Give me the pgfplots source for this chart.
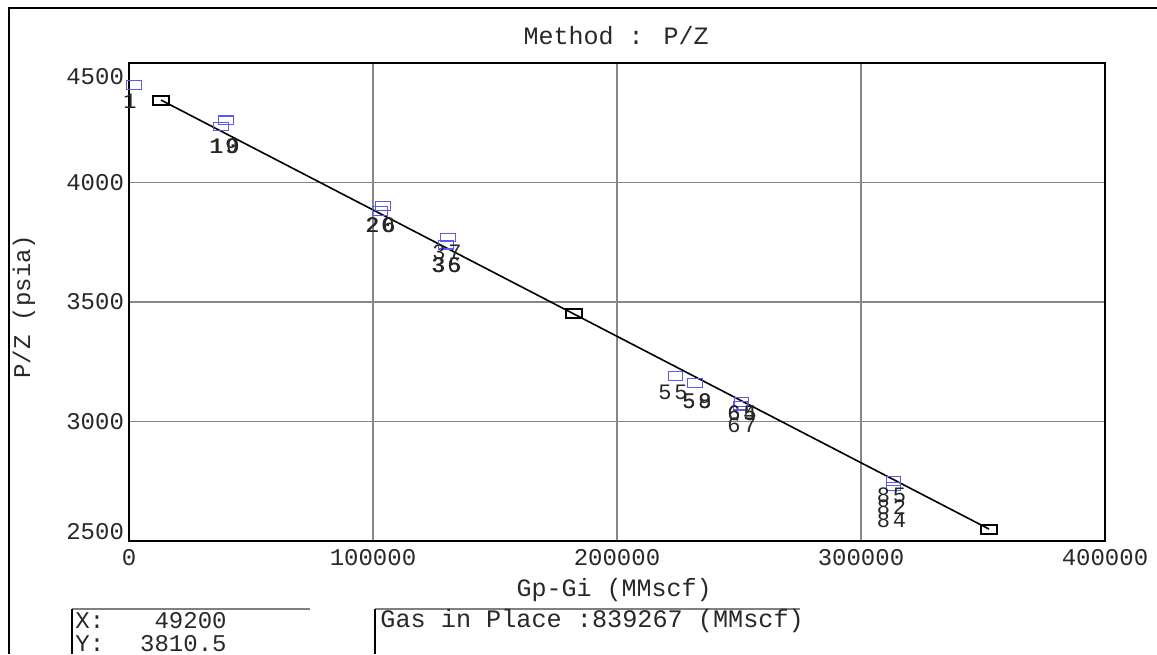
\documentclass[border=0pt]{standalone}
\usepackage{pgfplots}
\pgfplotsset{compat=1.18}
\usepackage{fontspec}
\setmainfont{Liberation Mono}
\newfontfamily\mono{Liberation Mono}
\newfontfamily\monoL[LetterSpace=12]{Liberation Mono}
\definecolor{ptblue}{RGB}{90,90,235}
\definecolor{gridgray}{RGB}{135,135,135}
\definecolor{txt}{RGB}{40,40,40}

\pgfplotstableread{
x y
2050 4408
39754 4261
37705 4234
104100 3902
102870 3881
130740 3770
129920 3739
223980 3190
231970 3161
251030 3082
250600 3066
313300 2751
313300 2728
}\bluepts

\pgfplotstableread{
x y
13115 4345
182380 3450
352460 2550
}\blackpts

\pgfplotstableread{
x y label
410 4338 1
39345 4153 10
38900 4153 19
103280 3822 26
102870 3822 20
130330 3709 37
130330 3655 35
129920 3655 36
222950 3123 55
232790 3086 58
232790 3086 59
251230 3036 64
251230 3036 65
251230 2985 67
312500 2692 85
312500 2642 82
312500 2588 84
}\labels

\begin{document}
\begin{tikzpicture}[x=1pt,y=1pt]
\useasboundingbox (0,0) rectangle (578.5,327);
% outer frame
\draw[line width=1pt,black] (4.5,0) -- (4.5,323) -- (578.5,323);
% bottom boxes
\draw[line width=0.6pt,gray] (36,22.5) -- (155,22.5);
\draw[line width=0.8pt,black] (36,0) -- (36,22.5);
\draw[line width=0.6pt,gray] (187.5,22.5) -- (400,22.5);
\draw[line width=0.8pt,black] (187.5,0) -- (187.5,22.5);
\node[anchor=west,font=\mono\fontsize{12}{12}\selectfont,text=txt,inner sep=0pt] at (37.5,16.5) {X:};
\node[anchor=east,font=\mono\fontsize{12}{12}\selectfont,text=txt,inner sep=0pt] at (113.5,16.5) {49200};
\node[anchor=west,font=\mono\fontsize{12}{12}\selectfont,text=txt,inner sep=0pt] at (37.5,5) {Y:};
\node[anchor=east,font=\mono\fontsize{12}{12}\selectfont,text=txt,inner sep=0pt] at (113.5,5) {3810.5};
\node[anchor=west,font=\mono\fontsize{12.6}{12.6}\selectfont,text=txt,inner sep=0pt] at (190,16.5) {Gas in Place :839267 (MMscf)};

\begin{axis}[
  at={(64.5pt,56.5pt)}, anchor=south west,
  scale only axis, width=488pt, height=239pt,
  xmin=0, xmax=400000, ymin=2500, ymax=4500,
  clip=false,
  scaled x ticks=false, scaled y ticks=false,
  xtick={0,100000,200000,300000,400000},
  xticklabels={0,100000,200000,300000,400000},
  ytick={2500,3000,3500,4000,4500},
  yticklabels={\raisebox{4.5pt}[\height][\depth]{2500},3000,3500,4000,\raisebox{-7pt}[\height][\depth]{4500}},
  major tick length=0pt,
  grid=major,
  major grid style={gridgray, line width=0.75pt},
  axis line style={black, line width=1pt},
  x tick label style={font=\mono\fontsize{12}{12}\selectfont, text=txt, yshift=-0.5pt},
  y tick label style={font=\mono\fontsize{12}{12}\selectfont, text=txt, xshift=1pt},
  title={Method : P/Z},
  every axis title/.style={font=\mono\fontsize{12.5}{12.5}\selectfont, text=txt, at={(axis description cs:0.499,1.058)}, anchor=center},
  xlabel={Gp-Gi (MMscf)},
  xlabel style={font=\mono\fontsize{12.5}{12.5}\selectfont, text=txt, at={(axis description cs:0.497,-0.1025)}, anchor=center},
  ylabel={P/Z (psia)},
  ylabel style={font=\mono\fontsize{12}{12}\selectfont, text=txt, at={(axis description cs:-0.1076,0.49)}, anchor=center},
]
\addplot[ptblue, only marks, mark=square, mark size=2.1pt, mark options={xscale=1.75, line width=0.6pt}] table[x=x,y=y] {\bluepts};
\addplot[draw=none, mark=none, nodes near coords, point meta=explicit symbolic,
  nodes near coords style={anchor=center, font=\monoL\fontsize{11}{11}\selectfont, text=black!85, inner sep=0pt}]
  table[x=x,y=y,meta=label] {\labels};
\addplot[black, line width=0.8pt, mark=none] coordinates {(13115,4345) (352460,2550)};
\addplot[black, only marks, mark=square, mark size=2.25pt, mark options={xscale=1.75, line width=1pt, fill=white}] table[x=x,y=y] {\blackpts};
\end{axis}
\end{tikzpicture}
\end{document}
